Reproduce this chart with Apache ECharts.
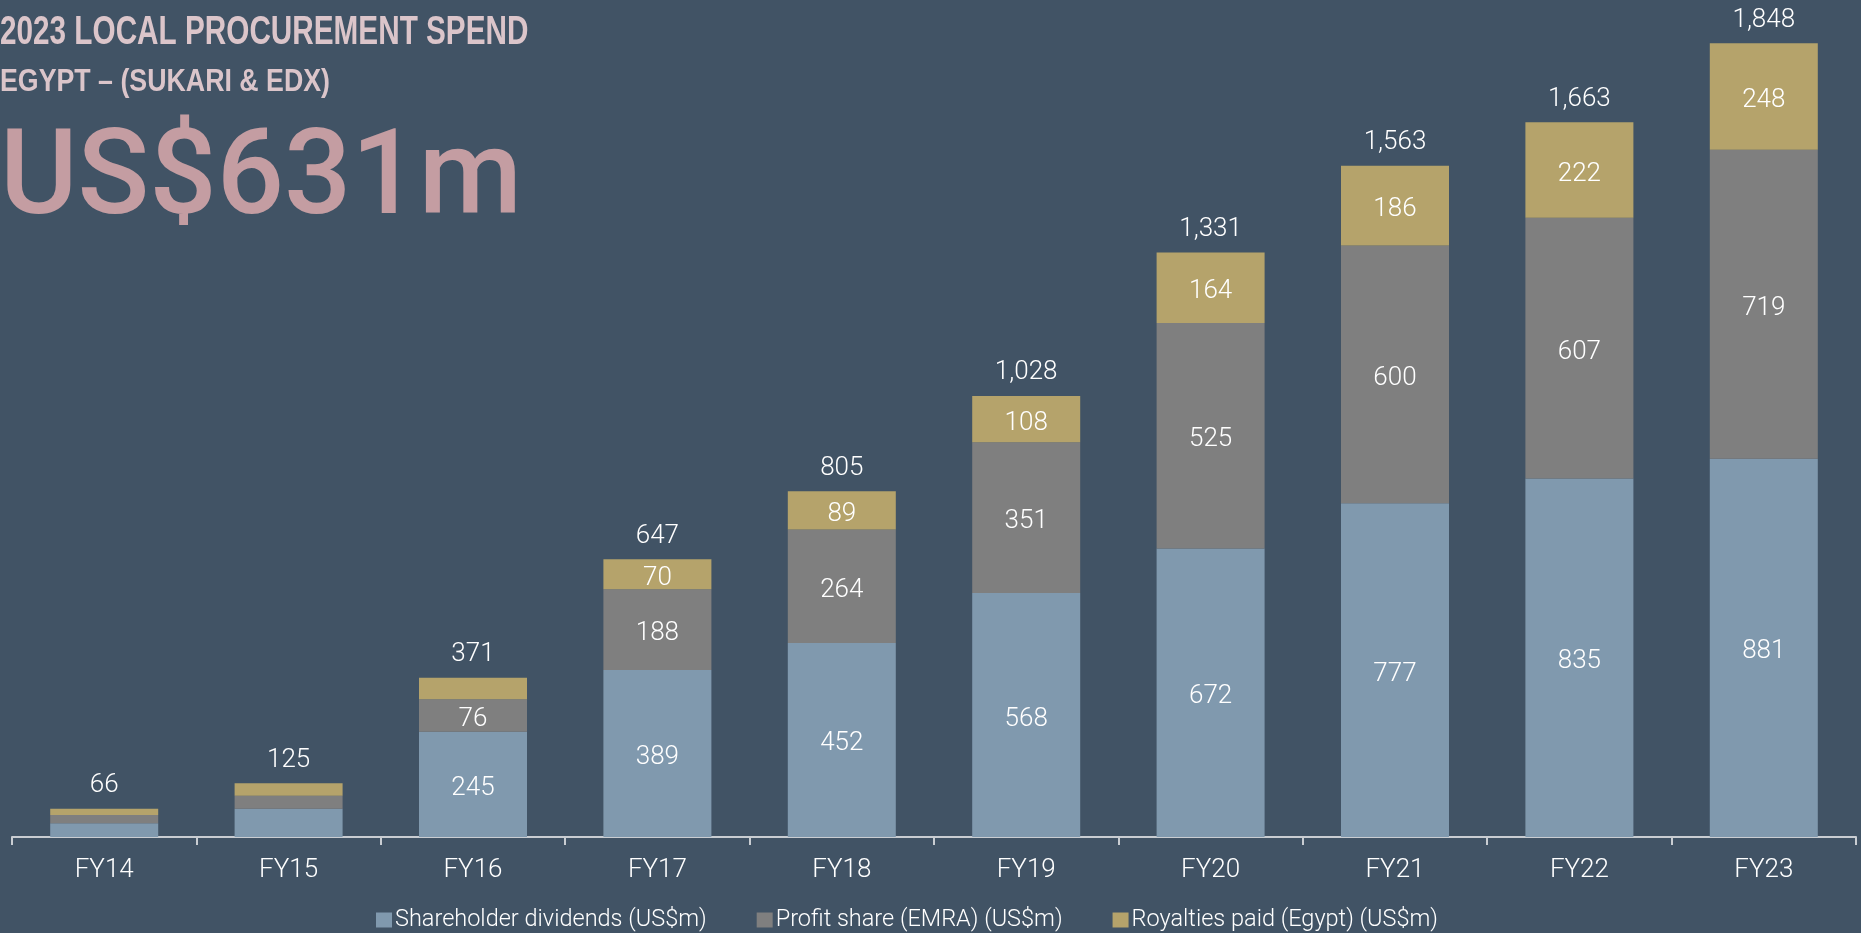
<!DOCTYPE html>
<html>
<head>
<meta charset="utf-8" />
<title>2023 Local Procurement Spend</title>
<script src="https://cdn.jsdelivr.net/npm/echarts@6/dist/echarts.min.js"></script>
<style>
  html, body { margin: 0; padding: 0; background: #415365; }
  #chart { width: 1861px; height: 933px; }
</style>
</head>
<body>
<div id="chart"></div>
<script>
// 数据
const years = ["FY14", "FY15", "FY16", "FY17", "FY18", "FY19", "FY20", "FY21", "FY22", "FY23"];
const dividends = [32, 66, 245, 389, 452, 568, 672, 777, 835, 881];
const profitShare = [19, 30, 76, 188, 264, 351, 525, 600, 607, 719];
const royalties = [15, 29, 50, 70, 89, 108, 164, 186, 222, 248];
// 柱顶的合计标签 (按原图文字)
const totals = [66, 125, 371, 647, 805, 1028, 1331, 1563, 1663, 1848];

const chart = echarts.init(document.getElementById("chart"));

const labelFont = {
  color: "#ffffff",
  fontFamily: "Roboto",
  fontWeight: 300,
  fontSize: 26,
};

function partSeries(name, data, color) {
  return {
    name: name,
    type: "bar",
    stack: "spend",
    barWidth: 108,
    data: data,
    itemStyle: { color: color },
    label: {
      show: true,
      position: "inside",
      offset: [0, 4],
      ...labelFont,
      formatter: (p) => (p.value >= 70 ? p.value : ""),
    },
  };
}

const option = {
  backgroundColor: "#415365",
  animation: false,
  // 标题用窄体: 横向压缩
  graphic: [
    {
      type: "text",
      x: 0,
      y: 13,
      scaleX: 0.743,
      style: {
        text: "2023 LOCAL PROCUREMENT SPEND",
        fill: "#dbc5ca",
        fontFamily: "Liberation Sans",
        fontWeight: "bold",
        fontSize: 40,
        verticalAlign: "top",
      },
    },
    {
      type: "text",
      x: 0,
      y: 66,
      scaleX: 0.836,
      style: {
        text: "EGYPT – (SUKARI & EDX)",
        fill: "#dbc5ca",
        fontFamily: "Liberation Sans",
        fontWeight: "bold",
        fontSize: 32,
        verticalAlign: "top",
      },
    },
    {
      type: "text",
      x: 0,
      y: 124,
      style: {
        text: "US$631m",
        fill: "#c49da2",
        fontFamily: "Roboto",
        fontWeight: 500,
        fontSize: 118.5,
        verticalAlign: "top",
      },
    },
  ],
  legend: {
    data: ["Shareholder dividends (US$m)", "Profit share (EMRA) (US$m)", "Royalties paid (Egypt) (US$m)"],
    left: 376,
    top: 908,
    padding: 0,
    itemWidth: 16,
    itemHeight: 15,
    itemGap: 50,
    icon: "rect",
    textStyle: {
      color: "#ffffff",
      fontFamily: "Roboto",
      fontWeight: 300,
      fontSize: 23.5,
      padding: [0, 0, 0, -2],
    },
  },
  grid: {
    left: 12,
    right: 5,
    top: 21,
    bottom: 96,
  },
  xAxis: {
    type: "category",
    data: years,
    axisLine: { lineStyle: { color: "#c9cdd2", width: 2 } },
    axisTick: { show: true, length: 8, lineStyle: { color: "#c9cdd2", width: 2 } },
    axisLabel: { ...labelFont, margin: 20 },
  },
  yAxis: {
    type: "value",
    min: 0,
    max: 1900,
    show: false,
    splitLine: { show: false },
  },
  series: [
    partSeries("Shareholder dividends (US$m)", dividends, "#8099ae"),
    partSeries("Profit share (EMRA) (US$m)", profitShare, "#7f7f7f"),
    partSeries("Royalties paid (Egypt) (US$m)", royalties, "#b5a36b"),
    {
      // 合计标签, 零高度柱
      name: "Total",
      type: "bar",
      stack: "spend",
      barWidth: 108,
      data: years.map(() => 0),
      itemStyle: { color: "transparent" },
      label: {
        show: true,
        position: "top",
        distance: 10,
        ...labelFont,
        formatter: (p) => totals[p.dataIndex].toLocaleString("en-US"),
      },
    },
  ],
};

chart.setOption(option);
</script>
</body>
</html>
